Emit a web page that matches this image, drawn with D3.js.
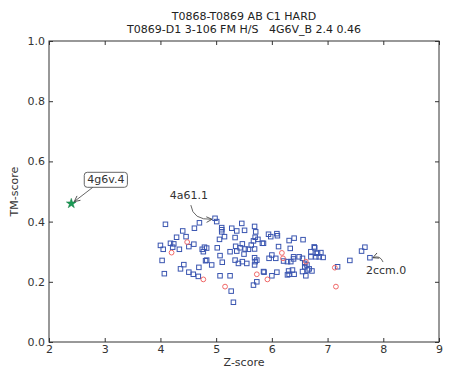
<!DOCTYPE html>
<html><head><meta charset="utf-8">
<script src="https://cdn.jsdelivr.net/npm/d3@7"></script>
<style>body{margin:0;background:#fff}svg{display:block}text{font-family:"DejaVu Sans",sans-serif}</style>
</head><body><svg id="c" width="451" height="374"></svg>
<script>
const titleLines = ["T0868-T0869 AB C1 HARD", "T0869-D1 3-106 FM H/S   4G6V_B 2.4 0.46"];
const xTicks = [2,3,4,5,6,7,8,9];
const yTicks = [0.0,0.2,0.4,0.6,0.8,1.0];
const xLabel = "Z-score", yLabel = "TM-score";
// blue squares: other models [Z-score, TM-score]
const squareZ = [4.09,4.70,4.61,4.40,4.29,4.46,4.18,4.24,4.00,4.05,4.22,4.34,4.51,4.60,4.79,4.75,4.77,4.83,4.03,4.81,4.42,4.36,4.69,4.51,4.59,4.68,4.07,
 4.98,5.01,5.10,5.10,5.10,5.46,5.28,5.37,5.51,5.69,5.71,5.15,5.06,5.34,5.70,5.75,5.67,5.63,5.47,5.35,5.43,5.52,5.58,5.69,5.83,5.02,5.25,5.37,5.50,5.07,5.69,5.73,5.70,5.34,5.40,5.47,5.55,5.69,5.11,4.92,4.83,5.85,5.07,5.25,5.73,5.67,5.27,5.31,
 5.94,5.98,6.09,6.10,5.85,6.31,6.40,6.56,6.12,6.33,6.00,5.95,6.07,6.39,6.39,6.49,6.55,6.76,6.70,6.80,6.70,6.79,6.21,6.28,6.34,6.59,6.63,6.59,6.64,6.67,6.72,6.55,6.61,6.30,6.37,6.28,6.31,6.40,6.09,6.00,5.86,
 6.77,6.82,6.88,6.92,6.85,7.18,7.40,7.61,7.67,7.76];
const squareTM = [0.391,0.396,0.378,0.369,0.348,0.350,0.328,0.326,0.321,0.308,0.315,0.308,0.317,0.325,0.315,0.308,0.300,0.312,0.271,0.270,0.257,0.243,0.248,0.232,0.225,0.218,0.227,
 0.411,0.400,0.380,0.373,0.366,0.394,0.378,0.369,0.371,0.384,0.366,0.350,0.341,0.347,0.348,0.341,0.336,0.322,0.326,0.318,0.313,0.309,0.308,0.309,0.328,0.313,0.300,0.302,0.292,0.287,0.280,0.272,0.267,0.272,0.261,0.267,0.261,0.256,0.265,0.256,0.272,0.234,0.220,0.220,0.200,0.189,0.169,0.132,
 0.358,0.350,0.360,0.353,0.328,0.337,0.345,0.340,0.317,0.311,0.289,0.278,0.278,0.283,0.276,0.283,0.278,0.316,0.300,0.295,0.283,0.283,0.269,0.267,0.267,0.261,0.256,0.250,0.239,0.243,0.236,0.234,0.220,0.236,0.239,0.223,0.225,0.225,0.232,0.220,0.232,
 0.313,0.295,0.297,0.281,0.283,0.250,0.271,0.302,0.315,0.280];
// red circles
const circleZ = [4.20,4.48,4.77,5.16,5.73,5.92,6.18,6.20,6.61,7.13,7.15];
const circleTM = [0.297,0.332,0.208,0.184,0.225,0.208,0.296,0.278,0.267,0.247,0.184];
// green star (best model)
const starZ = [2.4], starTM = [0.46];
// annotations
const annLabels = ["4g6v.4","4a61.1","2ccm.0"];
const annTextZ = [3.02,4.51,8.05];
const annTextTM = [0.540,0.488,0.239];
const annTargetZ = [2.4,4.98,7.76];
const annTargetTM = [0.46,0.411,0.280];

const svg = d3.select("#c");
const L=49,R=439,T=41,B=342;
const x = d3.scaleLinear().domain([2,9]).range([L,R]);
const y = d3.scaleLinear().domain([0,1]).range([B,T]);
const fg="#333";

// frame
svg.append("rect").attr("x",L).attr("y",T).attr("width",R-L).attr("height",B-T)
  .attr("fill","none").attr("stroke",fg).attr("stroke-width",1);

// ticks inward
const tl=4;
const bx = d3.axisBottom(x).tickValues(xTicks).tickFormat(d3.format("d")).tickSizeInner(-tl).tickSizeOuter(0).tickPadding(3);
const gb = svg.append("g").attr("transform",`translate(0,${B})`).call(bx);
const tx = d3.axisTop(x).tickValues(xTicks).tickFormat("").tickSizeInner(-tl).tickSizeOuter(0);
const gt = svg.append("g").attr("transform",`translate(0,${T})`).call(tx);
const ly = d3.axisLeft(y).tickValues(yTicks).tickFormat(d3.format(".1f")).tickSizeInner(-tl).tickSizeOuter(0).tickPadding(4);
const gl = svg.append("g").attr("transform",`translate(${L},0)`).call(ly);
const ry = d3.axisRight(y).tickValues(yTicks).tickFormat("").tickSizeInner(-tl).tickSizeOuter(0);
const gr = svg.append("g").attr("transform",`translate(${R},0)`).call(ry);
[gb,gt,gl,gr].forEach(g=>{
  g.select(".domain").remove();
  g.selectAll("line").attr("stroke",fg);
  g.selectAll("text").attr("fill","#333").attr("font-size",11).attr("font-family","DejaVu Sans");
});

// axis labels
svg.append("text").attr("x",(L+R)/2).attr("y",366).attr("text-anchor","middle")
  .attr("font-size",11).attr("fill","#333").text(xLabel);
svg.append("text").attr("transform",`translate(18,${(T+B)/2}) rotate(-90)`).attr("text-anchor","middle")
  .attr("font-size",11).attr("fill","#333").text(yLabel);

// title
svg.selectAll("text.title").data(titleLines).join("text").attr("class","title")
  .attr("x",(L+R)/2).attr("y",(d,i)=>20+i*13).attr("text-anchor","middle")
  .attr("font-size",11).attr("fill","#222").style("white-space","pre").text(d=>d);

// squares
const sq=4.5;
svg.append("g").selectAll("rect").data(squareZ.map((z,i)=>[z,squareTM[i]])).join("rect")
  .attr("x",d=>x(d[0])-sq/2).attr("y",d=>y(d[1])-sq/2).attr("width",sq).attr("height",sq)
  .attr("fill","none").attr("stroke","#3a55b0").attr("stroke-width",1);
// circles
svg.append("g").selectAll("circle").data(circleZ.map((z,i)=>[z,circleTM[i]])).join("circle")
  .attr("cx",d=>x(d[0])).attr("cy",d=>y(d[1])).attr("r",2.4)
  .attr("fill","none").attr("stroke","#f06868").attr("stroke-width",1);
// star
svg.append("g").selectAll("path").data(starZ.map((z,i)=>[z,starTM[i]])).join("path")
  .attr("transform",d=>`translate(${x(d[0])},${y(d[1])})`)
  .attr("d",d3.symbol(d3.symbolStar,30)).attr("fill","#1a9a55").attr("stroke","#117a40").attr("stroke-width",0.5);

// arrow marker
svg.append("defs").append("marker").attr("id","ah").attr("viewBox","0 0 10 10")
  .attr("refX",9).attr("refY",5).attr("markerWidth",7).attr("markerHeight",7).attr("orient","auto")
  .attr("markerUnits","userSpaceOnUse")
  .append("path").attr("d","M1,1 L9,5 L1,9").attr("fill","none").attr("stroke","#444").attr("stroke-width",1.2);

// annotations
const ann = annLabels.map((l,i)=>({l,tx:x(annTextZ[i]),ty:y(annTextTM[i]),px:x(annTargetZ[i]),py:y(annTargetTM[i])}));
// 4g6v.4 : boxed, straight arrow
{
  const a=ann[0];
  const g=svg.append("g");
  const box=g.append("rect");
  const t=g.append("text").attr("x",a.tx).attr("y",a.ty).attr("dy","0.35em").attr("text-anchor","middle")
    .attr("font-size",11).attr("fill","#333").text(a.l);
  const bb=t.node().getBBox();
  box.attr("x",bb.x-3).attr("y",bb.y-1).attr("width",bb.width+6).attr("height",bb.height+2)
    .attr("rx",3).attr("fill","#fff").attr("stroke","#666").attr("stroke-width",1);
  g.append("path").attr("d",`M${a.tx-13},${bb.y+bb.height+1} L${a.px+3},${a.py-2}`)
    .attr("fill","none").attr("stroke","#555").attr("stroke-width",0.9).attr("marker-end","url(#ah)");
}
// 4a61.1 : curved arrow
{
  const a=ann[1];
  svg.append("text").attr("x",a.tx).attr("y",a.ty).attr("dy","0.35em").attr("text-anchor","middle")
    .attr("font-size",11).attr("fill","#333").text(a.l);
  const sx=a.tx+2, sy=a.ty+10, ex=a.px-3, ey=a.py+1;
  svg.append("path").attr("d",`M${sx},${sy} Q${sx+2},${ey+1} ${ex},${ey}`)
    .attr("fill","none").attr("stroke","#555").attr("stroke-width",0.9).attr("marker-end","url(#ah)");
}
// 2ccm.0 : small curved arrow
{
  const a=ann[2];
  svg.append("text").attr("x",a.tx).attr("y",a.ty).attr("dy","0.35em").attr("text-anchor","middle")
    .attr("font-size",11).attr("fill","#333").text(a.l);
  const sx=a.tx-3, sy=a.ty-8, ex=a.px+3, ey=a.py;
  svg.append("path").attr("d",`M${sx},${sy} Q${sx-3},${ey-3} ${ex},${ey}`)
    .attr("fill","none").attr("stroke","#555").attr("stroke-width",0.9).attr("marker-end","url(#ah)");
}
</script></body></html>
